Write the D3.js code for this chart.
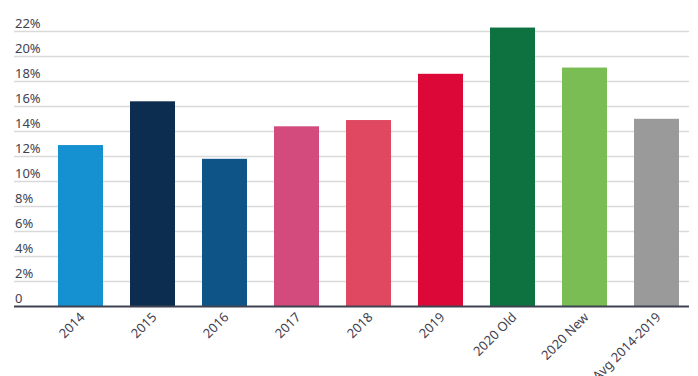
<!DOCTYPE html>
<html><head><meta charset="utf-8">
<script src="https://cdn.jsdelivr.net/npm/d3@7"></script>
<style>body{margin:0;background:#fff}svg{display:block}text{font-family:"Noto Sans","Open Sans",sans-serif}</style>
</head><body><svg id="c" width="698" height="376"></svg>
<script>
const categories = ["2014","2015","2016","2017","2018","2019","2020 Old","2020 New","Avg 2014-2019"];
const values = [12.9, 16.4, 11.8, 14.4, 14.9, 18.6, 22.3, 19.1, 15.0];
const colors = ["#1591d1","#0c2d4f","#0e5487","#d24b7c","#e04760","#dc0837","#0e7140","#7bbd55","#9a9a9a"];
const yTicks = [0,2,4,6,8,10,12,14,16,18,20,22];
const yTickLabels = ["0","2%","4%","6%","8%","10%","12%","14%","16%","18%","20%","22%"];

const svg = d3.select("#c");
const x = d3.scaleBand().domain(categories).range([44.5, 692.5]).paddingInner(0.375).paddingOuter(0.1875);
const y = d3.scaleLinear().domain([0, 22]).range([306.3, 31.3]);
const left = 14, right = 689;

const g = svg.append("g");
g.selectAll("line.grid").data(yTicks.filter(d => d > 0)).join("line")
  .attr("x1", left).attr("x2", right)
  .attr("y1", d => Math.round(y(d)) + 0.5).attr("y2", d => Math.round(y(d)) + 0.5)
  .attr("stroke", "#d9d9d9").attr("stroke-width", 1.3);
g.selectAll("text.yl").data(yTicks).join("text")
  .attr("x", 15).attr("y", d => y(d) - 3.5)
  .attr("font-size", 13).attr("fill", "#3f4250")
  .text((d, i) => yTickLabels[i]);

g.selectAll("rect").data(values).join("rect")
  .attr("x", (d, i) => x(categories[i]))
  .attr("width", x.bandwidth())
  .attr("y", d => y(d))
  .attr("height", d => y(0) - y(d))
  .attr("fill", (d, i) => colors[i]);

g.append("line").attr("x1", left).attr("x2", right).attr("y1", 306.5).attr("y2", 306.5)
  .attr("stroke", "#3f4250").attr("stroke-width", 2);

g.selectAll("text.xl").data(categories).join("text")
  .attr("text-anchor", "end").attr("font-size", 13).attr("fill", "#3f4250")
  .attr("transform", d => `translate(${x(d) + x.bandwidth()/2 + 5},${318}) rotate(-45)`)
  .text(d => d);
</script></body></html>
